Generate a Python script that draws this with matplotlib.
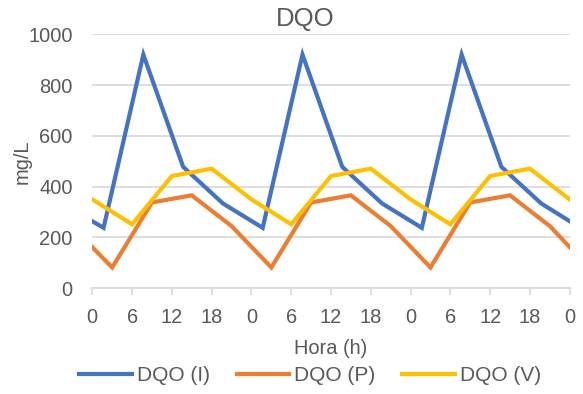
import matplotlib.pyplot as plt

plt.rcParams['font.family'] = ['Liberation Sans', 'DejaVu Sans']

# horas de muestreo (3 días) y DQO en mg/L
horas_i = [0, 1.7, 7.7, 13.7, 19.7, 25.7, 31.7, 37.7, 43.7, 49.7, 55.7, 61.7, 67.7, 72]
dqo_i = [264, 238, 920, 478, 334, 238, 920, 478, 334, 238, 920, 478, 334, 264]

horas_p = [0, 3, 9, 15, 21, 27, 33, 39, 45, 51, 57, 63, 69, 72]
dqo_p = [162, 82, 338, 366, 245, 82, 338, 366, 245, 82, 338, 366, 245, 162]

horas_v = [0, 6, 12, 18, 24, 30, 36, 42, 48, 54, 60, 66, 72]
dqo_v = [350, 252, 442, 471, 350, 252, 442, 471, 350, 252, 442, 471, 350]

ticks_x = [0, 6, 12, 18, 24, 30, 36, 42, 48, 54, 60, 66, 72]
etiquetas_x = ['0', '6', '12', '18', '0', '6', '12', '18', '0', '6', '12', '18', '0']
ticks_y = [0, 200, 400, 600, 800, 1000]

gris = '#595959'
grid = '#D9D9D9'

fig = plt.figure(figsize=(5.83, 3.94), dpi=100)
ax = fig.add_axes([0.1583, 0.2683, 0.8189, 0.6447])

ax.plot(horas_i, dqo_i, color='#4472C4', lw=3, label='DQO (I)', solid_joinstyle='miter')
ax.plot(horas_p, dqo_p, color='#ED7D31', lw=3, label='DQO (P)', solid_joinstyle='miter')
ax.plot(horas_v, dqo_v, color='#FFC000', lw=3, label='DQO (V)', solid_joinstyle='miter')

ax.set_xlim(0, 72)
ax.set_ylim(0, 1000)
ax.set_xticks(ticks_x)
ax.set_xticklabels(etiquetas_x)
ax.set_yticks(ticks_y)

ax.grid(axis='y', color=grid, lw=1.2)
ax.set_axisbelow(True)
for s in ['top', 'right', 'left']:
    ax.spines[s].set_visible(False)
ax.spines['bottom'].set_color(grid)
ax.spines['bottom'].set_linewidth(1.2)

ax.tick_params(axis='x', colors=grid, length=5, width=1.2, labelcolor=gris,
               labelsize=14.4, pad=9)
ax.tick_params(axis='y', length=0, labelcolor=gris, labelsize=14.4, pad=14)

ax.set_title('DQO', color=gris, fontsize=18.5, pad=6, x=0.4455)
ax.set_xlabel('Hora (h)', color=gris, fontsize=14.4, labelpad=9)
ax.set_ylabel('mg/L', color=gris, fontsize=14.4)
ax.yaxis.set_label_coords(-0.126, 0.5)

fig.legend(loc='center', bbox_to_anchor=(0.532, 0.0457), ncol=3, frameon=False,
           fontsize=15, labelcolor=gris, handlelength=2.5, handletextpad=0.25,
           columnspacing=1.3)

fig.savefig('out.png', dpi=100)
